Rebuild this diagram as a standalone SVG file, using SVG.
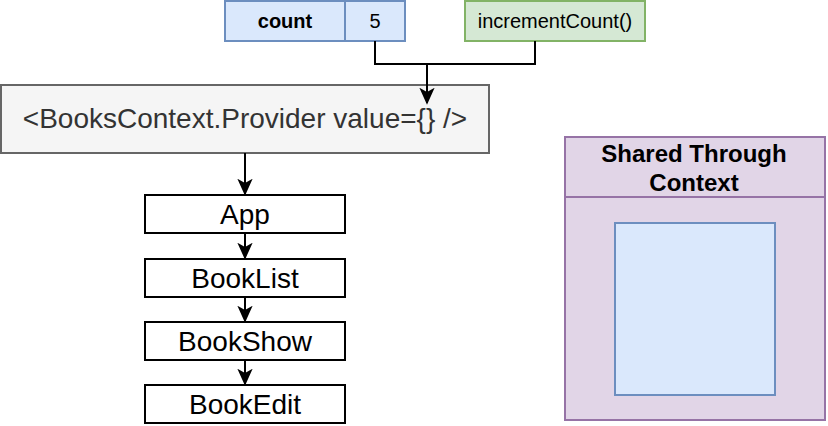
<svg xmlns="http://www.w3.org/2000/svg" width="828" height="426" viewBox="0 0 828 426">
<style>
text{font-family:"Liberation Sans",Arial,sans-serif;text-anchor:middle;dominant-baseline:central;fill:#000}
.blue{fill:#dae8fc;stroke:#6c8ebf;stroke-width:2}
.green{fill:#d5e8d4;stroke:#82b366;stroke-width:2}
.purple{fill:#e1d5e7;stroke:#9673a6;stroke-width:2}
.gray{fill:#f5f5f5;stroke:#666666;stroke-width:2}
.plain{fill:#ffffff;stroke:#000000;stroke-width:2}
.line{fill:none;stroke:#000;stroke-width:2}
.s20{font-size:20px}
.s28{font-size:28px}
.title{font-size:24px;font-weight:bold}
</style>
<defs>
<marker id="arr2" viewBox="0 0 10 10" refX="9" refY="5" markerWidth="17" markerHeight="17" markerUnits="userSpaceOnUse" orient="auto">
<path d="M0,0.5 L10,5 L0,9.5 L2.5,5 Z" fill="#000"/>
</marker>
</defs>
<g id="count">
<rect class="blue" x="225" y="1" width="120" height="40"/>
<text class="s20" x="285" y="21" font-weight="bold">count</text>
</g>
<g id="five">
<rect class="blue" x="345" y="1" width="60" height="40"/>
<text class="s20" x="375" y="21">5</text>
</g>
<g id="incrementCount">
<rect class="green" x="465" y="1" width="180" height="40"/>
<text class="s20" x="555" y="21">incrementCount()</text>
</g>
<g id="provider">
<rect class="gray" x="1" y="85" width="488" height="68"/>
<text class="s28" x="245" y="118" style="fill:#333">&lt;BooksContext.Provider value={} /&gt;</text>
</g>
<g id="app">
<rect class="plain" x="145" y="195" width="200" height="38"/>
<text class="s28" x="245" y="214">App</text>
</g>
<g id="booklist">
<rect class="plain" x="145" y="259" width="200" height="38"/>
<text class="s28" x="245" y="278">BookList</text>
</g>
<g id="bookshow">
<rect class="plain" x="145" y="322" width="200" height="38"/>
<text class="s28" x="245" y="341">BookShow</text>
</g>
<g id="bookedit">
<rect class="plain" x="145" y="385" width="200" height="38"/>
<text class="s28" x="245" y="404">BookEdit</text>
</g>
<g id="shared">
<rect class="purple" x="565" y="137" width="260" height="283"/>
<line x1="565" y1="197" x2="825" y2="197" stroke="#9673a6" stroke-width="2"/>
<text class="title" x="694" y="153">Shared Through</text>
<text class="title" x="694" y="182">Context</text>
<rect class="blue" x="615" y="223" width="160" height="172"/>
</g>
<g id="connectors">
<path class="line" d="M375,41 V64 H535 V41"/>
<path class="line" d="M427,64 V103" marker-end="url(#arr2)"/>
<path class="line" d="M245,153 V194" marker-end="url(#arr2)"/>
<path class="line" d="M245,233 V258" marker-end="url(#arr2)"/>
<path class="line" d="M245,297 V321" marker-end="url(#arr2)"/>
<path class="line" d="M245,360 V384" marker-end="url(#arr2)"/>
</g>
</svg>
